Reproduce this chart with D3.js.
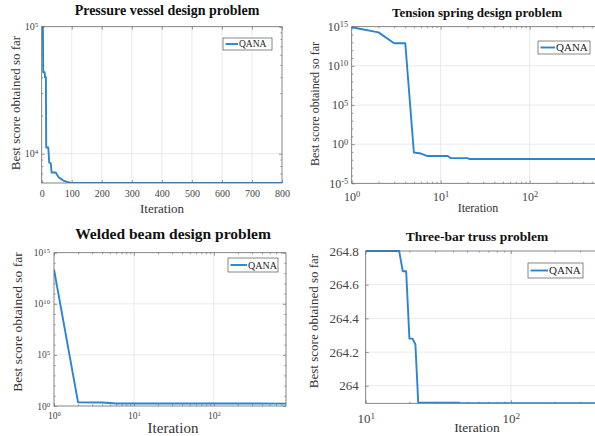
<!DOCTYPE html>
<html>
<head>
<meta charset="utf-8">
<script src="https://cdn.jsdelivr.net/npm/d3@7"></script>
<style>
  body { margin: 0; background: #fff; }
  text { font-family: "Liberation Serif", "Times New Roman", serif; }
</style>
</head>
<body>
<svg id="chart" width="595" height="436"></svg>
<script>
// ---- data ----
// Pressure vessel design problem
var pvIter  = [1, 4, 5, 10, 11, 14, 15, 22, 25, 30, 33, 47, 50, 57, 62, 72, 85, 96, 130, 180, 800];
var pvScore = [1e5, 1e5, 43800, 43800, 40100, 40100, 11200, 11200, 8540, 8400, 7110, 7110, 6900, 6500, 6400, 6150, 6000, 5930, 5900, 5890, 5885];
var pvXTicks = [0, 100, 200, 300, 400, 500, 600, 700, 800];
var pvYTicks = [1e4, 1e5];

// Tension spring design problem
var tsIter  = [1, 2, 3, 4, 5, 6, 7, 12, 13, 20, 21, 800];
var tsScore = [8.5e14, 1.9e14, 7.6e12, 7.6e12, 0.087, 0.063, 0.031, 0.031, 0.0162, 0.0162, 0.0128, 0.012665];
var tsXTicks = [1, 10, 100];
var tsYTicks = [1e-5, 1, 1e5, 1e10, 1e15];

// Welded beam design problem
var wbIter  = [1, 2, 4, 6, 15, 30, 100, 800];
var wbScore = [2.3e13, 2.3, 2.2, 1.78, 1.76, 1.74, 1.73, 1.7249];
var wbXTicks = [1, 10, 100];
var wbYTicks = [1, 1e5, 1e10, 1e15];

// Three-bar truss problem
var tbIter  = [10, 17, 18, 19, 20, 21, 22, 23, 44, 45, 800];
var tbScore = [264.8, 264.8, 264.68, 264.68, 264.28, 264.28, 264.245, 263.9, 263.9, 263.8958, 263.8958];
var tbXTicks = [10, 100];
var tbYTicks = [264, 264.2, 264.4, 264.6, 264.8];

var seriesName = "QANA";

var svg = d3.select("#chart");
var lineColor = "#2a85d0";

function logMinor(domain) {
  var out = [];
  var lo = Math.floor(Math.log10(domain[0])), hi = Math.ceil(Math.log10(domain[1]));
  for (var e = lo; e < hi; e++) {
    for (var k = 2; k < 10; k++) {
      var v = k * Math.pow(10, e);
      if (v > domain[0] && v < domain[1]) out.push(v);
    }
  }
  return out;
}
function decadeMinor(domain) {
  var out = [];
  for (var e = Math.ceil(Math.log10(domain[0])); e <= Math.floor(Math.log10(domain[1])); e++) {
    if (e % 5 !== 0) out.push(Math.pow(10, e));
  }
  return out;
}

// write "10^n" with a raised exponent
function powLabel(sel) {
  sel.each(function(d) {
    var t = d3.select(this);
    t.text(null);
    t.append("tspan").text("10");
    t.append("tspan").attr("dy", "-0.45em").attr("font-size", "0.7em")
      .text(String(Math.round(Math.log10(d))));
  });
}

var clipId = 0;
function drawPanel(p) {
  var g = svg.append("g");
  var x = (p.xLog ? d3.scaleLog() : d3.scaleLinear()).domain(p.xDomain).range([p.left, p.right]);
  var y = (p.yLog ? d3.scaleLog() : d3.scaleLinear()).domain(p.yDomain).range([p.bottom, p.top]);

  // grid
  g.selectAll(".gx").data(p.xTicks.filter(function(v) { return v > p.xDomain[0] && v < p.xDomain[1]; }))
    .enter().append("line")
    .attr("x1", function(d) { return x(d); }).attr("x2", function(d) { return x(d); })
    .attr("y1", p.top).attr("y2", p.bottom)
    .attr("stroke", "#e3e3e3").attr("stroke-width", 0.8);
  g.selectAll(".gy").data(p.yTicks.filter(function(v) { return v > p.yDomain[0] && v < p.yDomain[1]; }))
    .enter().append("line")
    .attr("y1", function(d) { return y(d); }).attr("y2", function(d) { return y(d); })
    .attr("x1", p.left).attr("x2", p.right)
    .attr("stroke", "#e3e3e3").attr("stroke-width", 0.8);

  // ticks on all four sides, pointing inward
  var tickLen = 3, minorLen = 1.6;
  var axes = [
    [d3.axisBottom(x), "translate(0," + p.bottom + ")", p.xTicks, p.xMinor],
    [d3.axisTop(x), "translate(0," + p.top + ")", p.xTicks, p.xMinor],
    [d3.axisLeft(y), "translate(" + p.left + ",0)", p.yTicks, p.yMinor],
    [d3.axisRight(y), "translate(" + p.right + ",0)", p.yTicks, p.yMinor]
  ];
  axes.forEach(function(a) {
    g.append("g").attr("transform", a[1])
      .call(a[0].tickValues(a[2]).tickSizeInner(-tickLen).tickSizeOuter(0).tickFormat(""))
      .call(function(s) { s.select(".domain").remove(); s.selectAll("line").attr("stroke", "#555").attr("stroke-width", 0.6); });
    if (a[3] && a[3].length) {
      g.append("g").attr("transform", a[1])
        .call(a[0].tickValues(a[3]).tickSizeInner(-minorLen).tickSizeOuter(0).tickFormat(""))
        .call(function(s) { s.select(".domain").remove(); s.selectAll("line").attr("stroke", "#555").attr("stroke-width", 0.6); });
    }
  });

  // tick labels
  var xl = g.append("g").attr("transform", "translate(0," + p.xLabelBase + ")")
    .call(d3.axisBottom(x).tickValues(p.xTicks).tickSize(0).tickPadding(0));
  xl.select(".domain").remove();
  xl.selectAll("text").attr("dy", 0).attr("y", 0).attr("fill", "#444")
    .attr("font-size", p.tickFont).attr("font-family", "Liberation Serif");
  if (p.xLog) powLabel(xl.selectAll("text"));

  var yl = g.append("g").attr("transform", "translate(" + (p.left - p.yPad) + ",0)")
    .call(d3.axisLeft(y).tickValues(p.yTicks).tickSize(0).tickPadding(0)
      .tickFormat(p.yLog ? null : function(d) { return d === 264 ? "264" : d3.format(".1f")(d); }));
  yl.select(".domain").remove();
  yl.selectAll("text").attr("x", 0).attr("fill", "#444")
    .attr("font-size", p.tickFont).attr("font-family", "Liberation Serif");
  if (p.yLog) powLabel(yl.selectAll("text"));

  // series
  clipId++;
  svg.append("clipPath").attr("id", "clip" + clipId).append("rect")
    .attr("x", p.left).attr("y", p.top - 1).attr("width", p.right - p.left).attr("height", p.bottom - p.top + 1);
  var pts = p.iter.map(function(d, i) { return [d, p.score[i]]; });
  g.append("path").datum(pts)
    .attr("clip-path", "url(#clip" + clipId + ")")
    .attr("fill", "none").attr("stroke", lineColor).attr("stroke-width", 1.9)
    .attr("stroke-linejoin", "round")
    .attr("d", d3.line().x(function(d) { return x(d[0]); }).y(function(d) { return y(d[1]); }));

  // box
  g.append("rect").attr("x", p.left).attr("y", p.top)
    .attr("width", p.right - p.left).attr("height", p.bottom - p.top)
    .attr("fill", "none").attr("stroke", "#666").attr("stroke-width", 0.8);

  // legend
  var L = p.legend;
  g.append("rect").attr("x", L[0]).attr("y", L[1]).attr("width", L[2]).attr("height", L[3])
    .attr("fill", "#fff").attr("stroke", "#555").attr("stroke-width", 0.7);
  g.append("line").attr("x1", L[0] + 2.5).attr("x2", L[0] + L[4])
    .attr("y1", L[1] + L[3] / 2).attr("y2", L[1] + L[3] / 2)
    .attr("stroke", lineColor).attr("stroke-width", 1.9);
  g.append("text").attr("x", L[0] + L[4] + 1).attr("y", L[1] + L[3] / 2).attr("dy", "0.35em")
    .attr("font-size", L[5]).attr("fill", "#222").text(seriesName);

  // title and axis labels
  g.append("text").attr("x", p.title[1]).attr("y", p.title[2]).attr("text-anchor", "middle")
    .attr("font-size", p.title[3]).attr("font-weight", "bold").attr("fill", "#111").text(p.title[0]);
  g.append("text").attr("x", p.xLab[0]).attr("y", p.xLab[1]).attr("text-anchor", "middle")
    .attr("font-size", p.xLab[2]).attr("fill", "#333").text("Iteration");
  g.append("text").attr("transform", "translate(" + (p.yLab[0] + p.yLab[2] * 0.35) + "," + p.yLab[1] + ") rotate(-90)")
    .attr("text-anchor", "middle").attr("font-size", p.yLab[2]).attr("fill", "#333")
    .text("Best score obtained so far");
}

drawPanel({
  iter: pvIter, score: pvScore,
  xLog: false, yLog: true, xDomain: [0, 800], yDomain: [5885, 1e5],
  left: 41.7, right: 282, top: 26.7, bottom: 183,
  xTicks: pvXTicks, yTicks: pvYTicks, xMinor: [], yMinor: logMinor([5885, 1e5]),
  tickFont: 10, xLabelBase: 197, yPad: 3.5,
  legend: [223, 38, 49, 12, 15, 9.5],
  title: ["Pressure vessel design problem", 167, 15, 14],
  xLab: [162, 213, 13], yLab: [15, 103, 13]
});

drawPanel({
  iter: tsIter, score: tsScore,
  xLog: true, yLog: true, xDomain: [1, 800], yDomain: [1e-5, 1e15],
  left: 351.7, right: 610, top: 26.7, bottom: 183.3,
  xTicks: tsXTicks, yTicks: tsYTicks, xMinor: logMinor([1, 800]), yMinor: decadeMinor([1e-5, 1e15]),
  tickFont: 12, xLabelBase: 201, yPad: 3.5,
  legend: [538, 41, 52, 13, 17, 11],
  title: ["Tension spring design problem", 477, 16.5, 13],
  xLab: [478, 212, 12], yLab: [315, 104, 12]
});

drawPanel({
  iter: wbIter, score: wbScore,
  xLog: true, yLog: true, xDomain: [1, 800], yDomain: [1, 1e15],
  left: 54, right: 286, top: 252.7, bottom: 406,
  xTicks: wbXTicks, yTicks: wbYTicks, xMinor: logMinor([1, 800]), yMinor: decadeMinor([1, 1e15]),
  tickFont: 9.5, xLabelBase: 419, yPad: 4,
  legend: [228, 258, 50, 14, 19, 10],
  title: ["Welded beam design problem", 173, 239, 15.5],
  xLab: [173, 433, 15], yLab: [17, 322, 13.5]
});

drawPanel({
  iter: tbIter, score: tbScore,
  xLog: true, yLog: false, xDomain: [10, 800], yDomain: [263.8958, 264.8],
  left: 365.7, right: 642, top: 251, bottom: 403.3,
  xTicks: tbXTicks, yTicks: tbYTicks, xMinor: logMinor([10, 800]), yMinor: [],
  tickFont: 13, xLabelBase: 423, yPad: 7,
  legend: [528, 263, 55, 15, 20, 11],
  title: ["Three-bar truss problem", 477, 240.5, 13.5],
  xLab: [477, 432, 13.5], yLab: [313, 321, 13]
});
</script>
</body>
</html>
